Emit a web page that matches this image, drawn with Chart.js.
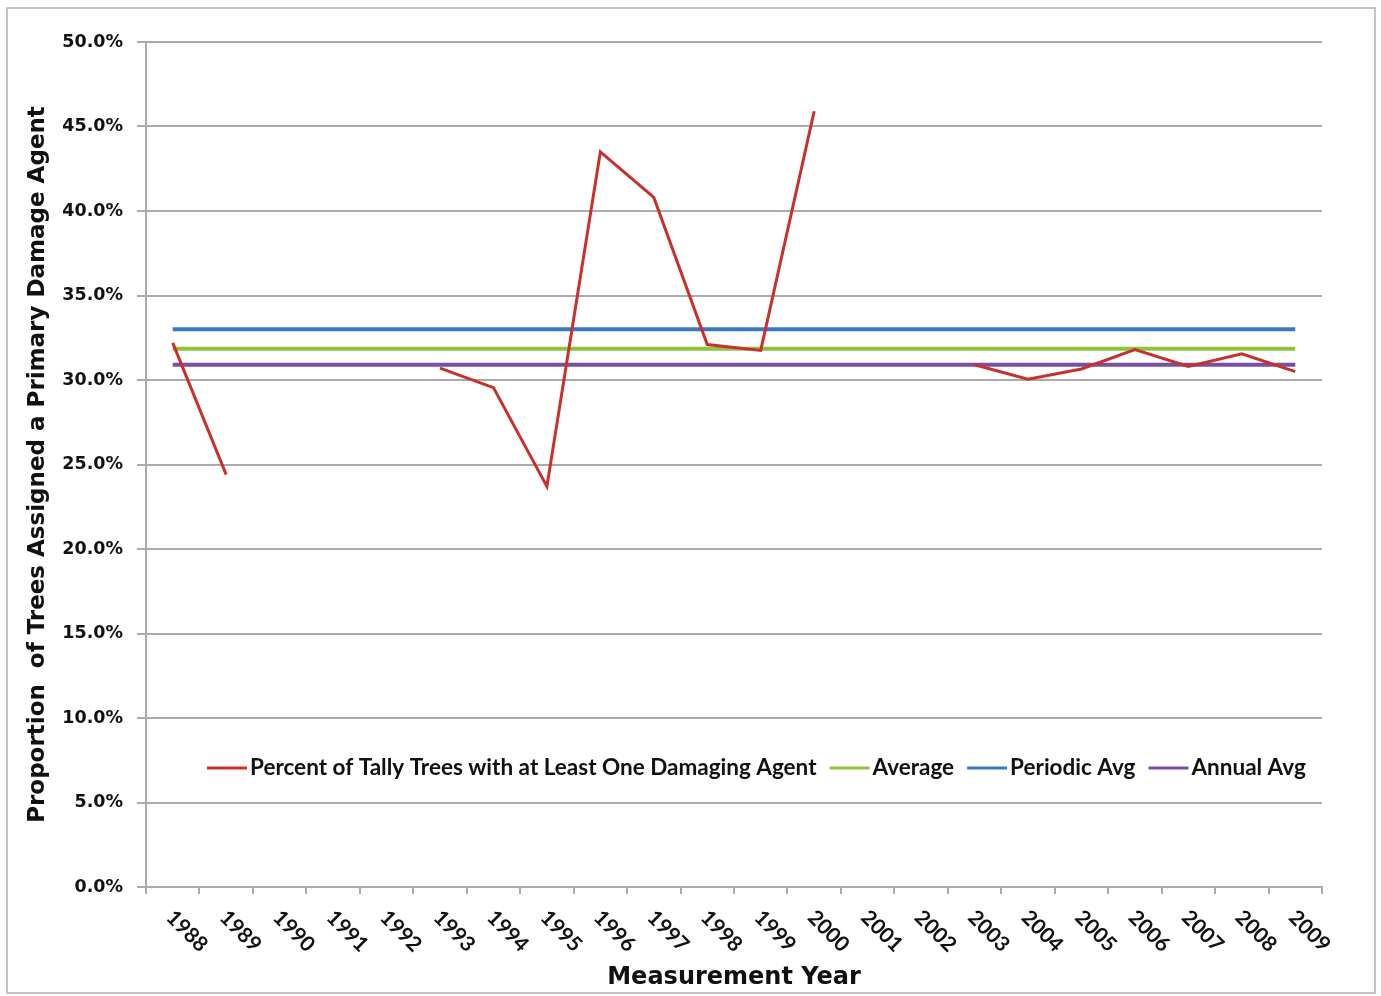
<!DOCTYPE html>
<html>
<head>
<meta charset="utf-8">
<title>Primary Damage Agent by Measurement Year</title>
<script src="https://cdn.jsdelivr.net/npm/chart.js@4.4.1/dist/chart.umd.min.js"></script>
<style>
  html, body { margin: 0; padding: 0; background: #fff; }
  canvas { display: block; }
</style>
</head>
<body>
<canvas id="damageChart" width="1381" height="996"></canvas>
<script>
const years = ['1988', '1989', '1990', '1991', '1992', '1993', '1994', '1995', '1996', '1997', '1998',
  '1999', '2000', '2001', '2002', '2003', '2004', '2005', '2006', '2007', '2008', '2009'];

// percent of tally trees with at least one damaging agent (no plots measured 1990-92, 2001-02)
const percentDamaged = [32.2, 24.4, null, null, null, 30.7, 29.55, 23.7, 43.5, 40.8, 32.1,
  31.75, 45.9, null, null, 30.9, 30.05, 30.65, 31.8, 30.8, 31.55, 30.5];

const overallAverage = 31.85;
const periodicAverage = 33.0;
const annualAverage = 30.9;

const yTickStep = 5;
const yMax = 50;

const gridGrey = '#ababab';

// x labels are drawn slanted downward to the right, starting at each category
const slantedYears = {
  id: 'slantedYears',
  afterDraw(chart) {
    const ctx = chart.ctx;
    const xs = chart.scales.x;
    ctx.save();
    ctx.font = 'bold 21px Lato';
    ctx.fillStyle = '#111';
    ctx.textAlign = 'left';
    ctx.textBaseline = 'middle';
    years.forEach((yr, i) => {
      const x = xs.getPixelForTick(i);
      ctx.save();
      ctx.translate(x - 3, xs.top + 27);
      ctx.rotate(Math.PI / 4);
      ctx.fillText(yr, 0, 0);
      ctx.restore();
    });
    ctx.restore();
  }
};

// legend sits inside the plot, near the bottom
const inlineLegend = {
  id: 'inlineLegend',
  afterDatasetsDraw(chart) {
    const ctx = chart.ctx;
    const area = chart.chartArea;
    let x = area.left + 61;
    const y = area.top + 726;
    ctx.save();
    ctx.font = 'bold 22.5px Lato';
    ctx.textBaseline = 'middle';
    ctx.textAlign = 'left';
    chart.data.datasets.forEach(ds => {
      ctx.strokeStyle = ds.borderColor;
      ctx.lineWidth = 3;
      ctx.beginPath();
      ctx.moveTo(x, y);
      ctx.lineTo(x + 40, y);
      ctx.stroke();
      x += 43;
      ctx.fillStyle = '#111';
      ctx.fillText(ds.label, x, y);
      x += ctx.measureText(ds.label).width + 13;
    });
    ctx.restore();
  }
};

// thin frame round the whole chart
const chartFrame = {
  id: 'chartFrame',
  beforeDraw(chart) {
    const ctx = chart.ctx;
    ctx.save();
    ctx.fillStyle = '#fff';
    ctx.fillRect(0, 0, chart.width, chart.height);
    ctx.strokeStyle = '#c4c4c4';
    ctx.lineWidth = 2;
    ctx.strokeRect(7, 8, 1368, 985);
    ctx.restore();
  }
};

new Chart(document.getElementById('damageChart'), {
  type: 'line',
  data: {
    labels: years,
    datasets: [
      {
        label: 'Percent of Tally Trees with at Least One Damaging Agent',
        data: percentDamaged,
        borderColor: '#c9302c',
        borderWidth: 3,
        spanGaps: false
      },
      {
        label: 'Average',
        data: years.map(() => overallAverage),
        borderColor: '#8cc43f',
        borderWidth: 4
      },
      {
        label: 'Periodic Avg',
        data: years.map(() => periodicAverage),
        borderColor: '#3a77c4',
        borderWidth: 4
      },
      {
        label: 'Annual Avg',
        data: years.map(() => annualAverage),
        borderColor: '#7a4fa3',
        borderWidth: 4
      }
    ]
  },
  options: {
    responsive: false,
    animation: false,
    layout: { padding: { top: 42, right: 59, left: 0, bottom: 0 } },
    elements: {
      point: { radius: 0, hoverRadius: 0 },
      line: { tension: 0, fill: false }
    },
    plugins: {
      legend: { display: false },
      tooltip: { enabled: false }
    },
    scales: {
      x: {
        offset: true,
        grid: {
          offset: true,
          drawOnChartArea: false,
          drawTicks: true,
          tickLength: 7,
          color: gridGrey,
          lineWidth: 2
        },
        border: { color: gridGrey, width: 2 },
        ticks: { display: false },
        title: {
          display: true,
          text: 'Measurement Year',
          color: '#111',
          font: { family: 'DejaVu Sans', weight: 'bold', size: 24 },
          padding: { top: 0, bottom: 4 }
        },
        afterFit(scale) { scale.height = 109; }
      },
      y: {
        min: 0,
        max: yMax,
        grid: {
          color: gridGrey,
          lineWidth: 2,
          drawTicks: true,
          tickLength: 9
        },
        border: { color: gridGrey, width: 2 },
        ticks: {
          stepSize: yTickStep,
          padding: 14,
          color: '#111',
          font: { family: 'DejaVu Sans', weight: 'bold', size: 17.5 },
          callback: v => v.toFixed(1) + '%'
        },
        title: {
          display: true,
          text: 'Proportion  of Trees Assigned a Primary Damage Agent',
          color: '#111',
          font: { family: 'DejaVu Sans', weight: 'bold', size: 23 },
          padding: { top: 24, bottom: 0 }
        },
        afterFit(scale) { scale.width = 146; }
      }
    }
  },
  plugins: [chartFrame, slantedYears, inlineLegend]
});
</script>
</body>
</html>
